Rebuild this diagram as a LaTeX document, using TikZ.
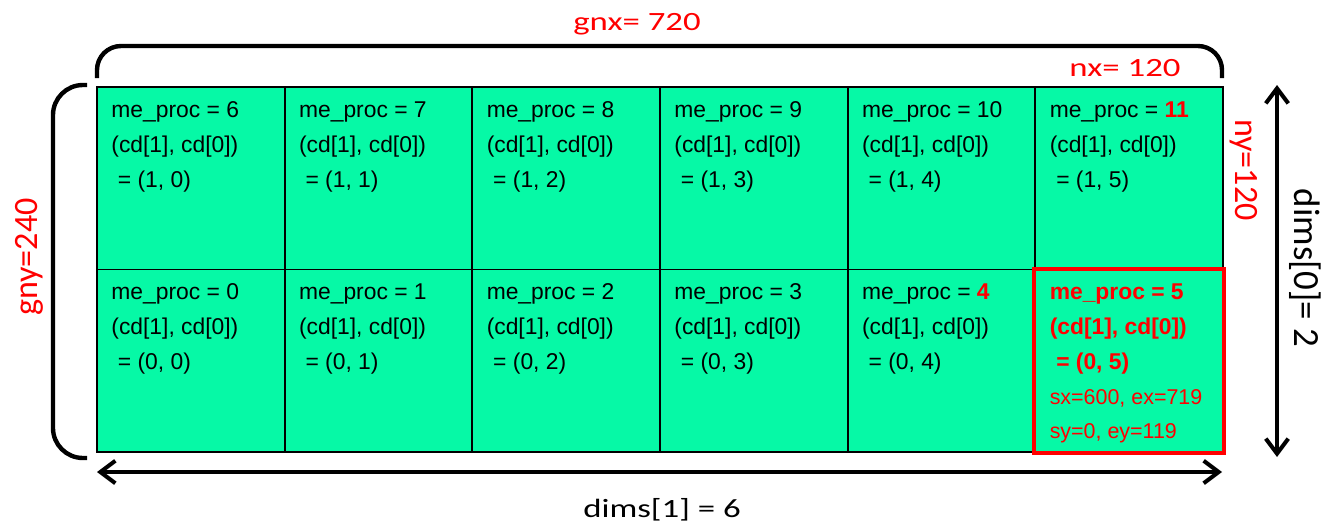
\documentclass[tikz,border=0pt]{standalone}
\usepackage{fontspec}
\setmainfont{Liberation Sans}
\newfontfamily\cellfont{Liberation Sans}
\newfontfamily\dimfont[FakeStretch=1.32]{Carlito}
\newfontfamily\sidefont{Carlito}
\usetikzlibrary{arrows.meta}

\definecolor{cellgreen}{RGB}{6,249,166}
\newcommand{\rednum}[1]{\textcolor{red}{\bfseries #1}}

\tikzset{
  cell/.style={draw=black, line width=1.1pt, fill=cellgreen,
    minimum width=3.7533cm, minimum height=3.65cm, inner sep=0pt},
  % base anchor sits on the last line
  celltext/.style={anchor=base west, align=left, inner sep=0pt,
    font=\cellfont\fontsize{13}{19.9}\selectfont},
  brace/.style={line width=2.5pt},
  dimarrow/.style={line width=2.3pt,
    {Straight Barb[length=0.3cm,width=0.45cm]}-{Straight Barb[length=0.3cm,width=0.45cm]}},
  dimlabel/.style={inner sep=0pt, font=\dimfont\fontsize{15}{18}\selectfont},
  sidelabel/.style={inner sep=0pt, font=\sidefont\fontsize{19.4}{22}\selectfont},
}

\begin{document}
\begin{tikzpicture}[x=0.02cm,y=-0.02cm]
\useasboundingbox (0,0) rectangle (1331,524);

% process grid, 2 rows x 6 columns
\foreach \n in {0,...,11} {
  \pgfmathtruncatemacro\col{mod(\n,6)}
  \pgfmathtruncatemacro\row{\n/6}
  \node[cell] (p\n) at ({97+(\col+0.5)*187.67},{452-(\row+0.5)*182.5}) {};
}

% rank and coordinates in each cell
\foreach \n/\num in {0/0,1/1,2/2,3/3,4/\rednum{4},6/6,7/7,8/8,9/9,10/10,11/\rednum{11}} {
  \pgfmathtruncatemacro\col{mod(\n,6)}
  \pgfmathtruncatemacro\row{\n/6}
  \node[celltext] (t\n) at ([xshift=0.3cm,yshift=-2.02cm]p\n.north west)
    {me\_proc = \num\\(cd[1], cd[0])\\\hspace*{0.13cm}= (\row, \col)};
}

% highlighted process
\draw[red, line width=2.3pt] (p5.north west) rectangle (p5.south east);
\node[celltext, text=red, font=\cellfont\bfseries\fontsize{13}{19.9}\selectfont] (t5)
  at ([xshift=0.3cm,yshift=-2.02cm]p5.north west)
  {me\_proc = 5\\(cd[1], cd[0])\\\hspace*{0.13cm}= (0, 5)};
\node[celltext, text=red, font=\cellfont\fontsize{12.2}{19.3}\selectfont] (r5)
  at ([xshift=0.3cm,yshift=-3.4cm]p5.north west)
  {sx=600, ex=719\\sy=0, ey=119};

% braces for the global size
\draw[brace, rounded corners=0.48cm] (97,78) -- (97,46) -- (1222,46) -- (1222,78);
\draw[brace, rounded corners=0.6cm] (87,85) -- (53,85) -- (53,458) -- (87,458);

% process counts
\coordinate (hl) at (97,472);
\coordinate (hr) at (1222,472);
\coordinate (vt) at (1277,85);
\coordinate (vb) at (1277,457);
\draw[dimarrow] (hl) -- (hr);
\draw[dimarrow] (vt) -- (vb);

% labels
\node[dimlabel, text=red, anchor=base] (gnx) at (637,31) {gnx= 720};
\node[dimlabel, text=red, anchor=base] (nx) at (1125,76) {nx= 120};
\node[dimlabel, anchor=base] (d1) at (662,517) {dims[1] = 6};
\node[sidelabel, text=red, rotate=-90] (ny) at (1244,170) {ny=120};
\node[sidelabel, text=red, rotate=90] (gny) at (29,257) {gny=240};
\node[sidelabel, rotate=-90, font=\sidefont\fontsize{21}{24}\selectfont] (d0)
  at (1305,268) {dims[0]= 2};
\end{tikzpicture}
\end{document}
